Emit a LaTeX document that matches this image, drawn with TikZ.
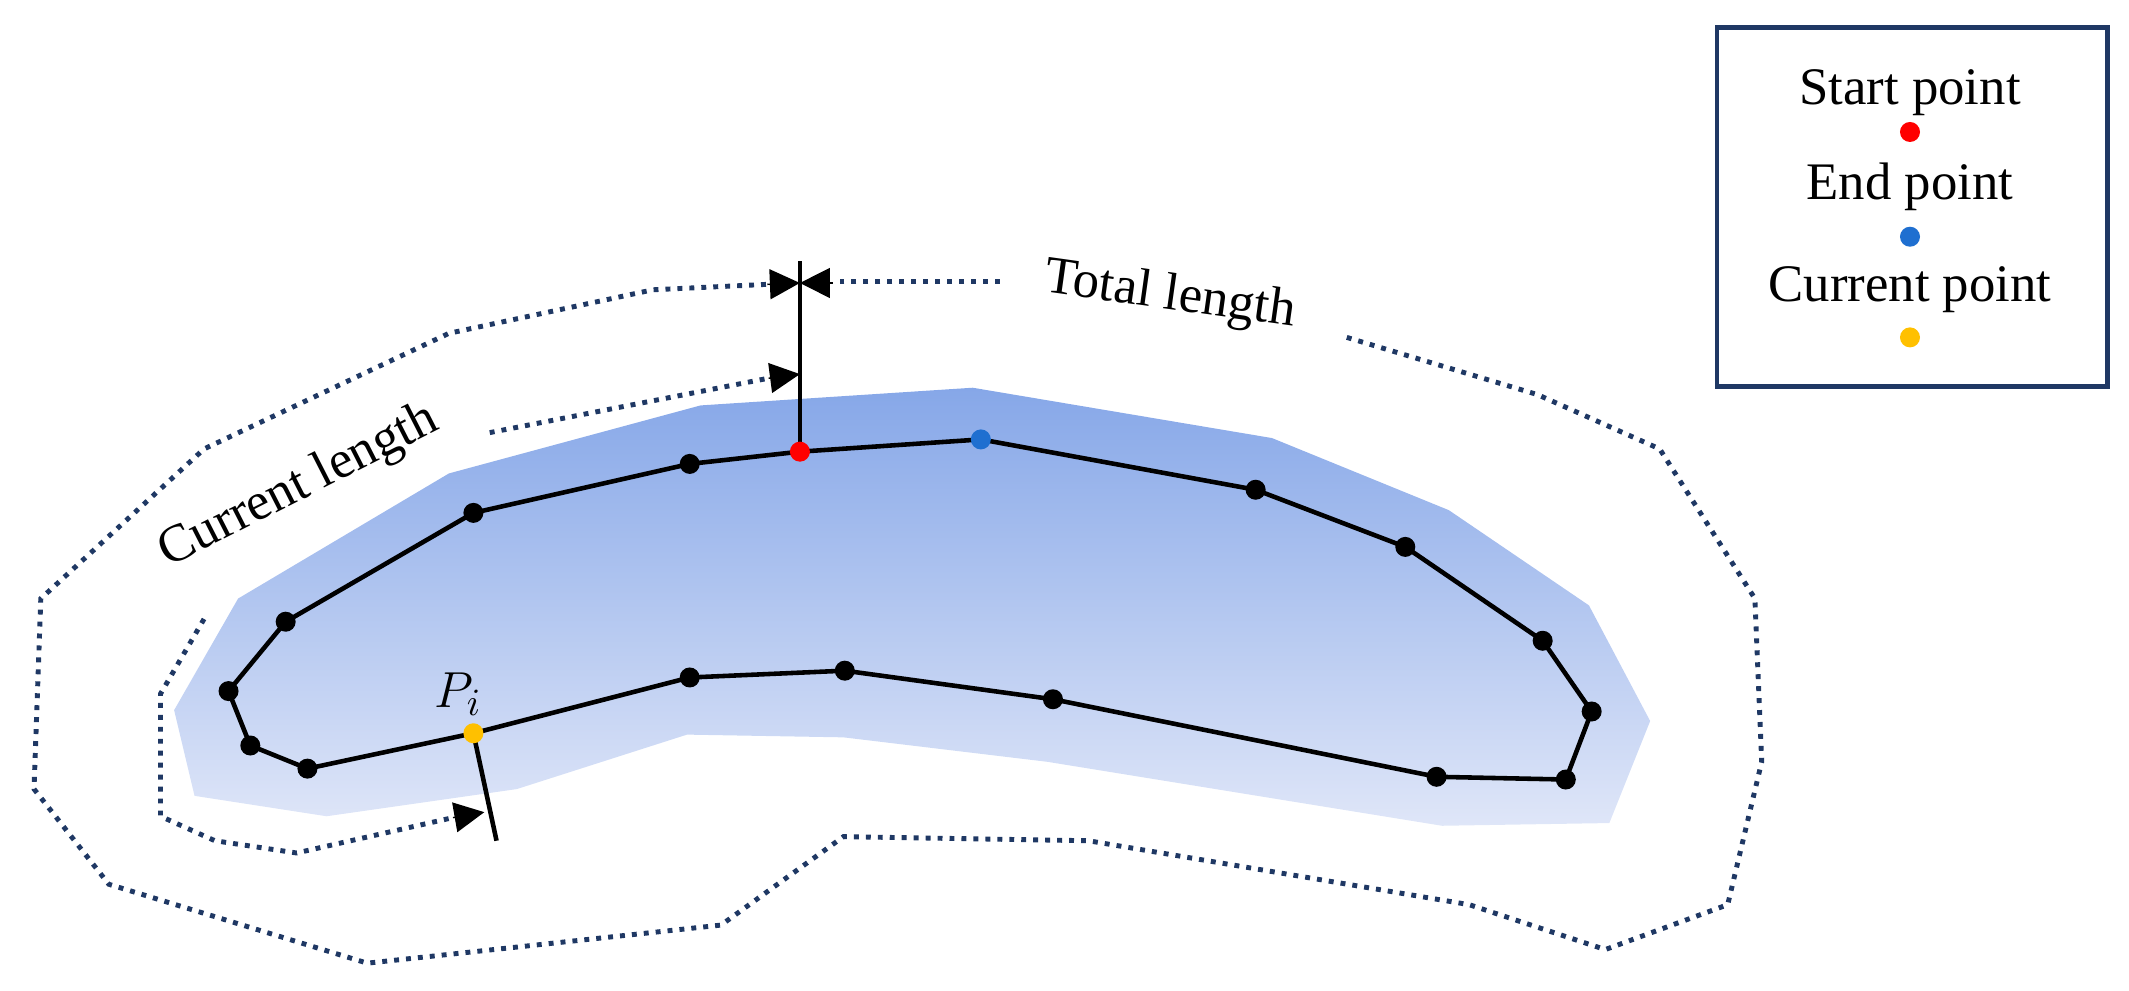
\documentclass[tikz,border=0pt]{standalone}
\usepackage{fontspec}
\setmainfont{Liberation Serif}
\usetikzlibrary{arrows.meta}
\definecolor{navy}{HTML}{1F3864}
\definecolor{bluetop}{HTML}{86A7E8}
\definecolor{bluebot}{HTML}{DFE6F8}
\definecolor{ptred}{HTML}{FF0000}
\definecolor{ptblue}{HTML}{1F6FD0}
\definecolor{ptyel}{HTML}{FFC000}
\begin{document}
\begin{tikzpicture}[x=0.0136cm,y=-0.0136cm,
  dot/.style={circle,fill=#1,inner sep=0pt,minimum size=0.2cm},
  dot/.default=black,
  outline/.style={line width=1.3pt,black},
  dots/.style={navy,line width=1.4pt,dotted},
  tip/.style={-{Triangle[length=0.3cm,width=0.3cm]}},
  lbl/.style={font=\fontsize{15}{18}\selectfont}]
\useasboundingbox (0,0) rectangle (1565,728);
% blue region
\shade[top color=bluetop,bottom color=bluebot]
 (128,522)--(175,440)--(330,348)--(515,298)--(715,285)--(935,322)--(1065,375)
 --(1168,445)--(1213,530)--(1183,605)--(1060,607)--(770,560)--(620,542)
 --(505,540)--(380,580)--(240,600)--(143,585)--cycle;
% outline points
\foreach \n/\p in {a/{588,332},b/{721,323},c/{923,360},d/{1033,402},e/{1134,471},
  f/{1170,523},g/{1151,573},h/{1056,571},i/{774,514},j/{621,493},k/{507,498},
  l/{348,539},m/{226,565},n/{184,548},o/{168,508},p/{210,457},q/{348,377},r/{507,341}}
  \coordinate (\n) at (\p);
\draw[outline] (a)--(b)--(c)--(d)--(e)--(f)--(g)--(h)--(i)--(j)--(k)--(l)--(m)--(n)--(o)--(p)--(q)--(r)--cycle;
% measuring lines
\coordinate (vt) at (588,192);
\coordinate (yb) at (365,618);
\draw[outline] (a)--(vt);
\draw[outline] (l)--(yb);
% total length dotted
\coordinate (tl1) at (588,208);
\coordinate (tr1) at (588,208);
\draw[dots] (735,207)--(612,207);
\draw[tip,line width=0.4pt] (612,208)--(tl1);
\draw[dots] (990,248)--(1130,290)--(1220,330)--(1290,440)--(1295,560)--(1270,665)
  --(1180,698)--(1080,665)--(800,618)--(620,615)--(530,680)--(270,708)--(80,650)
  --(25,580)--(30,440)--(150,330)--(330,245)--(480,213)--(564,209);
\draw[tip,line width=0.4pt] (564,209)--(tr1);
% current length dotted
\coordinate (ct) at (588,275);
\draw[dots] (360,318)--(565,278);
\draw[tip,line width=0.4pt] (565,278)--(ct);
\coordinate (cy) at (356,597);
\draw[dots] (150,455)--(118,510)--(118,600)--(158,618)--(218,627)--(333,601);
\draw[tip,line width=0.4pt] (333,601)--(cy);
% dots
\foreach \n in {c,d,e,f,g,h,i,j,k,m,n,o,p,q,r} \node[dot] at (\n) {};
\node[dot=ptred] at (a) {};
\node[dot=ptblue] at (b) {};
\node[dot=ptyel] at (l) {};
% labels
\node[lbl] (pi) at (337,510) {$P_i$};
\node[lbl,rotate=-8] (tlab) at (860,218) {Total length};
\node[lbl,rotate=27] (clab) at (220,358) {Current length};
% legend
\draw[navy,line width=1.3pt] (1262,20) rectangle (1549,284);
\node[lbl] (ls) at (1404,68) {Start point};
\node[dot=ptred] (ds) at (1404,97) {};
\node[lbl] (le) at (1404,137) {End point};
\node[dot=ptblue] (de) at (1404,174) {};
\node[lbl] (lc) at (1404,213) {Current point};
\node[dot=ptyel] (dc) at (1404,248) {};
\end{tikzpicture}
\end{document}
